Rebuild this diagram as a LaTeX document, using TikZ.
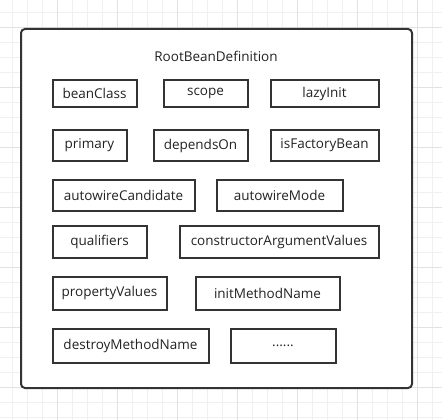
\documentclass[tikz,border=0pt]{standalone}
\usepackage{fontspec}
\setmainfont{Open Sans}
\definecolor{gridminor}{HTML}{F0F0F0}
\definecolor{gridmajor}{HTML}{E2E2E2}
\definecolor{boxline}{HTML}{333333}
\definecolor{labeltext}{HTML}{222222}

\tikzset{
  field/.style={draw=boxline, line width=2pt, fill=white, inner sep=0pt,
    text=labeltext, font=\fontsize{13.5}{15}\selectfont},
  container/.style={draw=boxline, line width=2pt, fill=white, rounded corners=4pt},
}

\newcommand\drawgrid{%
  \foreach \k in {0,...,28} {
    \draw[gridminor, line width=0.8pt] (12+15*\k, 0) -- (12+15*\k, 420);
    \draw[gridminor, line width=0.8pt] (0, 12+15*\k) -- (442, 12+15*\k);
  }
  \foreach \k in {0,...,6} {
    \draw[gridmajor, line width=0.8pt] (57+60*\k, 0) -- (57+60*\k, 420);
    \draw[gridmajor, line width=0.8pt] (0, 27+60*\k) -- (442, 27+60*\k);
  }
}

\begin{document}
\begin{tikzpicture}[x=1pt, y=-1pt]
  \useasboundingbox (0,0) rectangle (442,420);
  \fill[white] (0,0) rectangle (442,420);
  \drawgrid

  % RootBeanDefinition
  \draw[container] (21,29) rectangle (412,388);
  \node[text=labeltext, font=\fontsize{13.5}{15}\selectfont] (title) at (216,56) {RootBeanDefinition};

  % row 1
  \node[field, minimum width=84, minimum height=26] (beanClass) at (94.5,93.5) {beanClass};
  \node[field, minimum width=84, minimum height=26] (scope) at (205.5,93.5) {scope};
  \node[field, minimum width=108, minimum height=26] (lazyInit) at (324.5,93.5) {lazyInit};

  % row 2
  \node[field, minimum width=74, minimum height=31] (primary) at (89.5,145.5) {primary};
  \node[field, minimum width=94, minimum height=31] (dependsOn) at (200.5,145.5) {dependsOn};
  \node[field, minimum width=108, minimum height=31] (isFactoryBean) at (324.5,145.5) {isFactoryBean};

  % row 3
  \node[field, minimum width=142, minimum height=31] (autowireCandidate) at (123.5,195) {autowireCandidate};
  \node[field, minimum width=126, minimum height=31] (autowireMode) at (279.5,195) {autowireMode};

  % row 4
  \node[field, minimum width=94, minimum height=32] (qualifiers) at (99.5,241.5) {qualifiers};
  \node[field, minimum width=199, minimum height=32] (constructorArgs) at (279,241.5) {constructorArgumentValues};

  % row 5
  \node[field, minimum width=114, minimum height=33] (propertyValues) at (109.5,293) {propertyValues};
  \node[field, minimum width=144, minimum height=33] (initMethodName) at (267.5,293) {initMethodName};

  % row 6
  \node[field, minimum width=156, minimum height=34] (destroyMethodName) at (130.5,345.5) {destroyMethodName};
  \node[field, minimum width=105, minimum height=34] (more) at (283,345.5) {......};
\end{tikzpicture}
\end{document}
